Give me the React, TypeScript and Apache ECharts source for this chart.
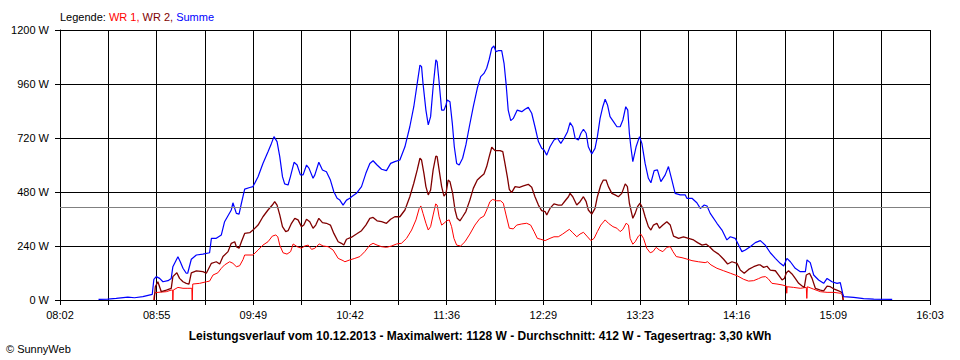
import React, { useEffect, useRef } from "react";
import * as echarts from "echarts";

// Time axis: clock labels shown on every second grid line
const TIME_LABELS = ["08:02", "08:55", "09:49", "10:42", "11:36", "12:29", "13:23", "14:16", "15:09", "16:03"];
const START_MIN = 482; // 08:02 in minutes after midnight
const END_MIN = 963; // 16:03
const Y_MAX = 1200;
const Y_STEP = 240;
const AVERAGE_W = 412;
const TITLE = "Leistungsverlauf vom 10.12.2013 - Maximalwert: 1128 W - Durchschnitt: 412 W - Tagesertrag: 3,30 kWh";
const COPYRIGHT = "© SunnyWeb";

// [minutes after midnight, W]
const SUMME: [number, number][] = [
  [503.3, 3], [508.3, 4], [513.1, 7], [519.5, 13], [523.2, 10], [527.8, 15], [533.0, 25], [533.9, 92], [535.2, 104],
  [537.1, 96], [538.9, 81], [541.7, 86], [543.5, 96], [544.4, 148], [547.2, 192], [548.5, 170], [550.0, 141],
  [551.8, 119], [552.6, 119], [554.6, 181], [557.4, 200], [561.0, 204], [564.7, 210], [565.7, 274], [568.4, 274],
  [571.2, 289], [573.0, 348], [576.7, 400], [577.6, 432], [579.5, 385], [581.0, 382], [582.3, 430], [584.1, 493],
  [586.9, 500], [588.7, 504], [591.5, 548], [594.2, 607], [597.0, 659], [598.9, 696], [600.3, 726], [602.0, 704],
  [603.5, 637], [605.0, 548], [606.2, 516], [608.1, 511], [609.4, 548], [611.4, 612], [613.1, 600], [614.9, 556],
  [616.4, 556], [618.3, 600], [619.7, 585], [621.9, 541], [622.9, 556], [625.1, 612], [627.1, 578], [629.3, 570],
  [631.5, 533], [633.4, 481], [635.2, 452], [636.7, 444], [638.5, 422], [640.4, 444], [642.2, 452], [643.2, 459],
  [645.9, 474], [648.7, 504], [651.1, 563], [653.3, 607], [655.1, 619], [657.3, 600], [659.8, 581], [662.5, 575],
  [664.8, 607], [667.1, 615], [669.9, 622], [672.7, 681], [675.4, 770], [677.6, 859], [679.5, 963], [681.0, 1044],
  [681.9, 1037], [682.7, 963], [684.3, 844], [685.6, 778], [686.9, 815], [688.3, 948], [689.8, 1067], [690.5, 1059],
  [691.5, 978], [693.0, 844], [694.3, 844], [695.4, 867], [696.1, 889], [697.6, 881], [698.9, 785], [700.0, 681],
  [701.3, 607], [702.7, 600], [704.6, 630], [706.4, 689], [708.3, 770], [710.5, 859], [712.7, 941], [714.6, 993],
  [716.4, 1007], [717.9, 1030], [719.3, 1070], [720.7, 1119], [721.9, 1129], [723.0, 1104], [724.3, 1108],
  [726.2, 1108], [727.5, 1052], [728.6, 963], [729.8, 844], [731.2, 797], [732.6, 807], [734.8, 844], [737.3, 837],
  [739.1, 848], [740.9, 856], [742.8, 830], [744.6, 770], [746.5, 704], [748.3, 674], [749.6, 667], [751.1, 644],
  [752.9, 681], [755.1, 711], [757.0, 719], [758.9, 696], [760.7, 719], [762.6, 748], [764.0, 788], [765.5, 770],
  [766.8, 719], [768.6, 711], [770.0, 741], [771.4, 759], [772.9, 741], [774.1, 681], [776.0, 649], [777.8, 674],
  [779.1, 726], [780.6, 807], [782.1, 859], [783.4, 892], [784.7, 867], [786.1, 815], [788.0, 793], [789.9, 770],
  [791.7, 770], [793.2, 800], [794.8, 859], [795.9, 844], [796.8, 740], [797.6, 681], [798.7, 615], [800.5, 681],
  [802.4, 726], [803.7, 696], [805.5, 607], [807.3, 541], [808.7, 521], [810.5, 575], [812.3, 578], [814.2, 526],
  [816.6, 556], [818.4, 593], [820.3, 533], [822.1, 474], [824.9, 467], [827.7, 467], [828.6, 452], [831.4, 452],
  [834.1, 432], [836.0, 407], [838.2, 422], [839.7, 418], [841.5, 385], [845.2, 341], [848.0, 311], [850.7, 267],
  [852.6, 281], [855.3, 274], [857.2, 244], [859.0, 215], [860.9, 222], [863.6, 237], [866.4, 255], [869.2, 264],
  [871.9, 244], [874.7, 210], [877.5, 185], [880.2, 163], [882.1, 151], [883.9, 185], [885.8, 170], [888.5, 141],
  [891.3, 126], [894.1, 126], [895.0, 178], [896.8, 166], [898.7, 111], [901.4, 89], [904.2, 74], [906.1, 96],
  [908.8, 81], [911.6, 74], [913.4, 77], [914.7, 30], [915.3, 15], [920.8, 12], [926.3, 6], [931.9, 4], [942.1, 3],
];

const WR2: [number, number][] = [
  [534.1, 0], [534.7, 59], [536.1, 81], [538.0, 37], [540.8, 44], [543.5, 52], [544.4, 104], [546.6, 121], [548.1, 96],
  [550.0, 81], [551.8, 74], [553.3, 71], [554.6, 121], [557.4, 129], [561.0, 126], [562.9, 119], [565.7, 163],
  [568.4, 170], [570.3, 160], [572.1, 193], [574.9, 215], [576.7, 252], [578.6, 259], [579.5, 237], [581.0, 230],
  [582.3, 259], [584.1, 296], [586.9, 299], [588.7, 311], [591.5, 333], [594.2, 370], [597.0, 400], [599.4, 422],
  [600.7, 437], [602.0, 422], [603.5, 378], [605.0, 326], [606.8, 304], [608.1, 308], [610.0, 341], [611.8, 363],
  [613.6, 356], [615.5, 326], [616.8, 333], [618.3, 359], [620.1, 348], [621.9, 319], [623.4, 333], [625.1, 363],
  [627.1, 344], [629.3, 341], [631.5, 333], [633.4, 296], [635.8, 259], [637.6, 252], [638.9, 244], [640.4, 270],
  [643.2, 279], [645.9, 293], [648.7, 308], [651.1, 333], [653.3, 363], [655.1, 367], [657.3, 352], [659.8, 348],
  [662.5, 341], [664.8, 359], [667.1, 370], [669.9, 370], [672.7, 400], [675.4, 459], [677.6, 519], [679.5, 578],
  [681.0, 630], [681.9, 622], [683.2, 563], [684.3, 504], [685.6, 467], [686.9, 489], [688.3, 578], [689.8, 640],
  [690.5, 637], [691.6, 578], [693.0, 504], [694.3, 462], [695.4, 474], [696.6, 533], [697.6, 526], [699.1, 474],
  [700.4, 400], [701.6, 363], [703.1, 352], [704.6, 370], [706.4, 393], [708.6, 444], [710.5, 496], [712.7, 533],
  [714.6, 548], [716.4, 560], [717.9, 593], [719.3, 637], [720.7, 679], [722.5, 664], [725.3, 664], [726.8, 659],
  [728.0, 607], [729.3, 548], [730.4, 492], [731.7, 477], [733.6, 504], [736.0, 501], [738.2, 507], [740.9, 514],
  [742.8, 501], [744.6, 459], [746.5, 422], [748.3, 397], [750.2, 393], [751.1, 378], [752.9, 407], [755.1, 427],
  [757.5, 422], [759.4, 422], [761.3, 441], [763.1, 459], [764.0, 474], [765.5, 459], [767.7, 422], [769.5, 437],
  [771.4, 459], [772.9, 437], [774.1, 400], [776.0, 382], [777.8, 407], [779.1, 459], [781.0, 511], [782.4, 533],
  [783.9, 533], [785.2, 504], [787.1, 474], [788.9, 467], [790.7, 459], [792.6, 474], [794.5, 516], [795.7, 504],
  [796.8, 430], [798.7, 363], [800.0, 385], [801.3, 415], [802.7, 430], [804.2, 407], [805.5, 370], [807.3, 326],
  [808.7, 311], [810.1, 333], [812.0, 341], [813.4, 319], [815.3, 333], [817.5, 348], [819.4, 333], [821.2, 284],
  [824.0, 274], [826.7, 281], [829.5, 274], [832.3, 267], [834.5, 255], [837.0, 244], [839.3, 248], [841.1, 237],
  [843.3, 219], [846.1, 204], [848.9, 181], [851.1, 160], [853.5, 170], [856.3, 163], [858.1, 133], [860.3, 119],
  [862.7, 136], [865.5, 148], [868.2, 156], [869.2, 156], [871.0, 145], [872.9, 150], [874.7, 133], [877.5, 130],
  [879.3, 111], [881.2, 89], [882.5, 96], [883.6, 121], [884.8, 130], [886.7, 116], [888.5, 96], [890.4, 74],
  [892.3, 62], [893.5, 56], [894.6, 111], [896.4, 119], [897.8, 96], [899.6, 52], [902.4, 44], [904.2, 41],
  [906.1, 62], [907.9, 59], [910.1, 48], [912.5, 41], [914.4, 33], [914.9, 0],
];

const WR1: [number, number][] = [
  [533.9, 0], [534.1, 22], [534.7, 33], [540.8, 37], [543.5, 44], [544.3, 44], [544.4, 0], [544.6, 44], [547.2, 56],
  [550.0, 52], [552.7, 52], [554.9, 52], [555.1, 0], [555.4, 71], [559.2, 74], [562.9, 81], [564.7, 84], [566.6, 111],
  [569.3, 121], [571.2, 141], [573.0, 156], [575.8, 170], [577.6, 163], [579.5, 148], [581.3, 152], [583.2, 180],
  [584.1, 200], [588.7, 200], [591.5, 222], [594.2, 244], [597.0, 259], [599.4, 284], [601.3, 289], [602.4, 281],
  [603.5, 244], [605.3, 210], [607.5, 204], [609.5, 215], [610.9, 249], [613.1, 237], [615.5, 230], [617.3, 240],
  [619.2, 244], [621.1, 225], [622.9, 230], [625.3, 249], [627.5, 240], [630.2, 237], [633.0, 222], [635.8, 185],
  [638.5, 175], [639.5, 170], [642.2, 178], [645.0, 185], [647.8, 193], [650.5, 215], [653.3, 244], [655.1, 252],
  [657.3, 244], [659.8, 237], [662.5, 234], [665.3, 240], [668.1, 249], [670.8, 252], [673.6, 274], [676.4, 311],
  [678.8, 356], [680.6, 407], [681.5, 418], [682.7, 385], [684.3, 341], [685.6, 311], [686.9, 326], [688.3, 378],
  [689.7, 427], [690.5, 422], [691.6, 370], [693.0, 333], [694.3, 341], [695.8, 352], [697.2, 356], [698.5, 326],
  [699.8, 274], [701.3, 244], [703.5, 240], [705.9, 259], [708.6, 293], [711.4, 333], [714.2, 363], [716.4, 373],
  [717.9, 400], [719.7, 437], [721.2, 447], [723.4, 441], [725.6, 441], [727.1, 430], [728.6, 378], [730.4, 319],
  [732.6, 316], [734.5, 333], [737.3, 338], [740.0, 341], [742.2, 333], [744.1, 304], [745.9, 274], [747.8, 270],
  [750.2, 264], [752.9, 274], [755.1, 281], [757.5, 281], [759.9, 293], [761.8, 304], [763.6, 314], [765.5, 299],
  [767.7, 281], [769.5, 293], [771.4, 301], [773.3, 284], [775.5, 264], [777.3, 274], [779.1, 304], [781.0, 333],
  [783.4, 356], [785.2, 341], [787.7, 326], [789.9, 319], [791.7, 304], [793.2, 314], [795.0, 341], [796.3, 333],
  [797.2, 274], [798.7, 248], [800.0, 259], [801.8, 284], [803.1, 293], [804.6, 274], [806.4, 230], [808.3, 210],
  [809.8, 215], [811.6, 234], [813.4, 222], [815.3, 215], [817.5, 234], [819.4, 237], [820.9, 215], [822.7, 193],
  [825.9, 188], [828.6, 182], [831.4, 175], [835.0, 170], [838.7, 166], [840.0, 170], [841.9, 156], [845.2, 141],
  [848.9, 130], [852.6, 119], [856.3, 108], [860.0, 92], [862.7, 84], [865.5, 86], [868.2, 95], [870.1, 102],
  [872.0, 104], [873.5, 95], [875.6, 74], [878.4, 71], [881.2, 67], [883.6, 62], [883.8, 30], [884.0, 59],
  [887.6, 56], [891.3, 52], [894.6, 56], [894.9, 7], [895.2, 59], [898.7, 48], [902.4, 37], [906.1, 34],
  [909.8, 34], [913.4, 30], [914.9, 22], [915.1, 0],
];

const FONT = '"Liberation Sans", Arial, sans-serif';

const toAxis = (pts: [number, number][]) => pts.map(([m, w]) => [m - START_MIN, w]);

export default function App() {
  const ref = useRef<HTMLDivElement>(null);
  useEffect(() => {
    if (!ref.current) return;
    const chart = echarts.init(ref.current, null, { renderer: "svg" });
    const span = END_MIN - START_MIN;
    const xInterval = span / 18;
    const line = (name: string, data: [number, number][], color: string, width: number, extra: any = {}) => ({
      name,
      type: "line",
      data: toAxis(data),
      showSymbol: false,
      symbol: "none",
      lineStyle: { color, width },
      itemStyle: { color },
      emphasis: { disabled: true },
      silent: true,
      ...extra,
    });
    chart.setOption({
      animation: false,
      backgroundColor: "#ffffff",
      grid: { left: 60, right: 30, top: 30, bottom: 60, containLabel: false },
      xAxis: {
        type: "value",
        min: 0,
        max: span,
        interval: xInterval,
        axisLine: { show: true, lineStyle: { color: "#000", width: 1 } },
        axisTick: { show: true, length: 5, inside: false, lineStyle: { color: "#000", width: 1 } },
        axisLabel: {
          show: true,
          margin: 9,
          color: "#000",
          fontFamily: FONT,
          fontSize: 11,
          showMinLabel: true,
          showMaxLabel: true,
          hideOverlap: false,
          formatter: (v: number) => {
            const idx = Math.round(v / xInterval);
            if (idx % 2 !== 0) return "";
            return TIME_LABELS[idx / 2] ?? "";
          },
        },
        splitLine: { show: true, lineStyle: { color: "#000", width: 1, type: "solid" } },
      },
      yAxis: {
        type: "value",
        min: 0,
        max: Y_MAX,
        interval: Y_STEP,
        axisLine: { show: true, lineStyle: { color: "#000", width: 1 } },
        axisTick: { show: true, length: 5, inside: false, lineStyle: { color: "#000", width: 1 } },
        axisLabel: {
          show: true,
          margin: 11,
          color: "#000",
          fontFamily: FONT,
          fontSize: 11,
          formatter: (v: number) => `${v} W`,
        },
        splitLine: { show: true, lineStyle: { color: "#000", width: 1, type: "solid" } },
      },
      series: [
        line("WR 1", WR1, "#ff0000", 1, {
          markLine: {
            silent: true,
            symbol: "none",
            label: { show: false },
            lineStyle: { color: "#808080", type: "solid", width: 1 },
            data: [{ yAxis: AVERAGE_W }],
          },
        }),
        line("WR 2", WR2, "#800000", 1.3),
        line("Summe", SUMME, "#0000ff", 1.2),
      ],
      graphic: [
        {
          type: "text",
          x: 60,
          y: 17,
          style: {
            text: "{k|Legende: }{a|WR 1, }{b|WR 2, }{c|Summe}",
            font: `11px ${FONT}`,
            textVerticalAlign: "middle",
            rich: {
              k: { fill: "#000000", fontFamily: FONT, fontSize: 11 },
              a: { fill: "#ff0000", fontFamily: FONT, fontSize: 11 },
              b: { fill: "#800000", fontFamily: FONT, fontSize: 11 },
              c: { fill: "#0000ff", fontFamily: FONT, fontSize: 11 },
            },
          },
        },
        {
          type: "text",
          x: 480,
          y: 336,
          style: {
            text: TITLE,
            fill: "#000",
            font: `bold 12px ${FONT}`,
            textAlign: "center",
            textVerticalAlign: "middle",
          },
        },
        {
          type: "text",
          x: 6,
          y: 349,
          style: {
            text: COPYRIGHT,
            fill: "#000",
            font: `11px ${FONT}`,
            textAlign: "left",
            textVerticalAlign: "middle",
          },
        },
      ],
    });
    return () => chart.dispose();
  }, []);
  return (
    <div
      ref={ref}
      style={{ position: "absolute", left: 0, top: 0, width: 960, height: 360, background: "#fff" }}
    />
  );
}
